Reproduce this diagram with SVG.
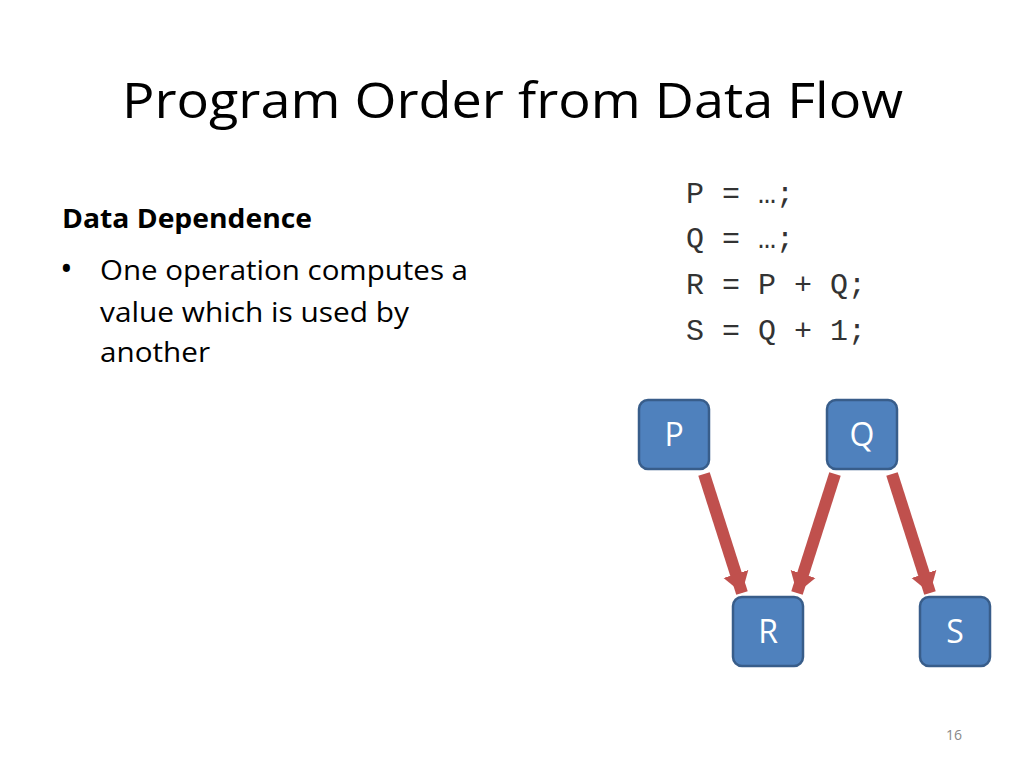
<svg xmlns="http://www.w3.org/2000/svg" width="1024" height="768" viewBox="0 0 1024 768">
<defs>
<style>
.sans{font-family:"Open Sans","Liberation Sans",sans-serif;fill:#000}
.mono{font-family:"Liberation Mono","Courier New",monospace;font-size:30px;fill:#333}
.box{fill:#4F81BD;stroke:#385D8A;stroke-width:2.5}
.lbl{font-family:"Open Sans","Liberation Sans",sans-serif;font-size:32px;fill:#fff;text-anchor:middle}
.arrow{stroke:#C0504D;stroke-width:12;fill:none;marker-end:url(#ah)}
</style>
<marker id="ah" markerUnits="userSpaceOnUse" markerWidth="28" markerHeight="28" viewBox="0 0 28 28" refX="20" refY="14" orient="auto">
<path d="M0,1 L20,14 L0,27 Z" fill="#C0504D"/>
</marker>
</defs>
<rect width="1024" height="768" fill="#fff"/>
<text class="sans" x="122" y="118" font-size="50" textLength="781" lengthAdjust="spacingAndGlyphs">Program Order from Data Flow</text>
<text class="sans" x="62" y="228" font-size="27" font-weight="bold" textLength="250" lengthAdjust="spacingAndGlyphs">Data Dependence</text>
<text class="sans" x="60" y="281" font-size="34">•</text>
<text class="sans" x="100" y="280" font-size="27" textLength="368" lengthAdjust="spacingAndGlyphs">One operation computes a</text>
<text class="sans" x="100" y="322" font-size="27" textLength="309" lengthAdjust="spacingAndGlyphs">value which is used by</text>
<text class="sans" x="100" y="362" font-size="27" textLength="110" lengthAdjust="spacingAndGlyphs">another</text>
<g id="code">
<text class="mono" x="686" y="203" xml:space="preserve">P = …;</text>
<text class="mono" x="686" y="248" xml:space="preserve">Q = …;</text>
<text class="mono" x="686" y="294" xml:space="preserve">R = P + Q;</text>
<text class="mono" x="686" y="340" xml:space="preserve">S = Q + 1;</text>
</g>
<g id="connectors">
<line class="arrow" x1="704" y1="474" x2="742" y2="593"/>
<line class="arrow" x1="835" y1="474" x2="797" y2="593"/>
<line class="arrow" x1="892" y1="474" x2="930" y2="593"/>
</g>
<g id="node-P"><rect class="box" x="639" y="400" width="70" height="69" rx="9"/><text class="lbl" x="674" y="446">P</text></g>
<g id="node-Q"><rect class="box" x="827" y="400" width="70" height="69" rx="9"/><text class="lbl" x="862" y="446">Q</text></g>
<g id="node-R"><rect class="box" x="733" y="597" width="70" height="69" rx="9"/><text class="lbl" x="768" y="643">R</text></g>
<g id="node-S"><rect class="box" x="920" y="597" width="70" height="69" rx="9"/><text class="lbl" x="955" y="643">S</text></g>
<text class="sans" x="954" y="740" font-size="14" style="fill:#888" text-anchor="middle">16</text>
</svg>
